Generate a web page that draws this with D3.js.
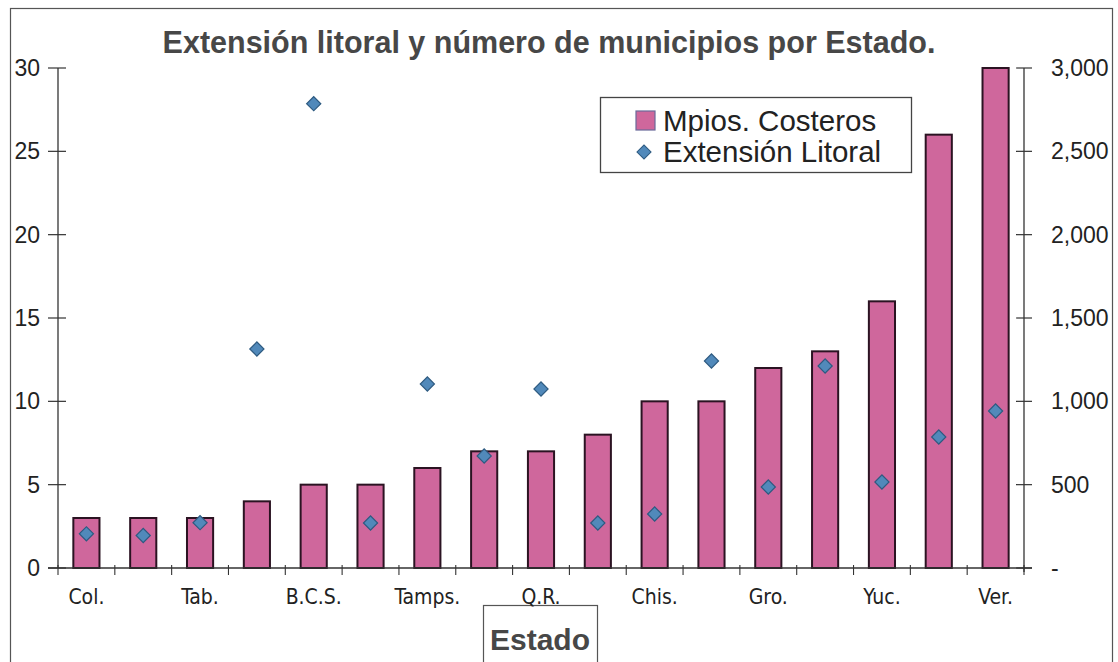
<!DOCTYPE html>
<html><head><meta charset="utf-8">
<script src="https://cdn.jsdelivr.net/npm/d3@7"></script>
<style>
html,body{margin:0;padding:0;background:#fff;}
svg{display:block;}
</style></head>
<body>
<svg id="chart" width="1118" height="662"></svg>
<script>
const estados = ["Col.","Mich.","Tab.","B.C.","B.C.S.","Nay.","Tamps.","Camp.","Q.R.","Jal.","Chis.","Son.","Gro.","Sin.","Yuc.","Oax.","Ver."];
const mpiosCosteros = [3,3,3,4,5,5,6,7,7,8,10,10,12,13,16,26,30];
const extensionLitoral = [205,195,272,1314,2786,270,1104,672,1074,270,324,1242,486,1212,516,786,942];
const leftTicks = [0,5,10,15,20,25,30];
const rightTicks = [0,500,1000,1500,2000,2500,3000];
const shownLabels = ["Col.","Tab.","B.C.S.","Tamps.","Q.R.","Chis.","Gro.","Yuc.","Ver."];

const svg = d3.select("#chart");
const L = 58, R = 1024, T = 68, B = 568;
const font = "'Liberation Sans', Arial, sans-serif";
const catFont = "'DejaVu Sans Condensed','DejaVu Sans', sans-serif";

// outer frame
svg.append("rect").attr("x",10.5).attr("y",8.5).attr("width",1102).attr("height",660)
  .attr("fill","none").attr("stroke","#555").attr("stroke-width",1.2);

const x = d3.scaleBand().domain(estados).range([L,R]).paddingInner(0.54).paddingOuter(0.27);
const yL = d3.scaleLinear().domain([0,30]).range([B,T]);
const yR = d3.scaleLinear().domain([0,3000]).range([B,T]);

// title
svg.append("text").attr("x",549).attr("y",53).attr("text-anchor","middle")
  .attr("font-family",font).attr("font-weight","bold").attr("font-size",30.5)
  .attr("fill","#474747").text("Extensión litoral y número de municipios por Estado.");

// axis title box (drawn before category labels)
svg.append("rect").attr("x",483.5).attr("y",605.5).attr("width",114).attr("height",70)
  .attr("fill","#fff").attr("stroke","#555").attr("stroke-width",1.2);
svg.append("text").attr("x",540).attr("y",650).attr("text-anchor","middle")
  .attr("font-family",font).attr("font-weight","bold").attr("font-size",30).attr("fill","#474747").text("Estado");

// bars
svg.append("g").selectAll("rect").data(estados).join("rect")
  .attr("x",d=>x(d)).attr("width",x.bandwidth())
  .attr("y",(d,i)=>yL(mpiosCosteros[i])).attr("height",(d,i)=>B-yL(mpiosCosteros[i]))
  .attr("fill","#cf679c").attr("stroke","#2b1322").attr("stroke-width",2);

// left axis
const gl = svg.append("g").attr("transform",`translate(${L},0)`);
gl.append("line").attr("y1",T).attr("y2",B).attr("stroke","#333").attr("stroke-width",1.3);
gl.selectAll("line.t").data(leftTicks).join("line").attr("class","t")
  .attr("x1",-10).attr("x2",8).attr("y1",d=>yL(d)).attr("y2",d=>yL(d)).attr("stroke","#333").attr("stroke-width",1.2);
gl.selectAll("text").data(leftTicks).join("text")
  .attr("x",-18).attr("y",d=>yL(d)+8).attr("text-anchor","end")
  .attr("font-family",font).attr("font-size",23).attr("fill","#222").text(d=>d);

// right axis
const gr = svg.append("g").attr("transform",`translate(${R},0)`);
gr.append("line").attr("y1",T).attr("y2",B+4).attr("stroke","#333").attr("stroke-width",1.3);
gr.selectAll("line.t").data(rightTicks).join("line").attr("class","t")
  .attr("x1",-8).attr("x2",8).attr("y1",d=>yR(d)).attr("y2",d=>yR(d)).attr("stroke","#333").attr("stroke-width",1.2);
const fmt = d3.format(",");
gr.selectAll("text").data(rightTicks).join("text")
  .attr("x",27).attr("y",d=>yR(d)+8).attr("text-anchor","start")
  .attr("font-family",font).attr("font-size",23).attr("fill","#222").text(d=>d===0?"-":fmt(d));

// x axis
const gx = svg.append("g");
gx.append("line").attr("x1",L-10).attr("x2",R+8).attr("y1",B).attr("y2",B).attr("stroke","#333").attr("stroke-width",1.3);
const boundaries = d3.range(estados.length+1).map(i=>L + i*(R-L)/estados.length);
gx.selectAll("line.t").data(boundaries).join("line").attr("class","t")
  .attr("x1",d=>d).attr("x2",d=>d).attr("y1",B-3).attr("y2",B+7).attr("stroke","#333").attr("stroke-width",1.1);
gx.selectAll("text").data(shownLabels).join("text")
  .attr("x",d=>x(d)+x.bandwidth()/2).attr("y",B+36).attr("text-anchor","middle")
  .attr("font-family",catFont).attr("font-size",21).attr("fill","#222").text(d=>d);

// diamonds
const dia = d3.symbol().type(d3.symbolSquare).size(100);
svg.append("g").selectAll("path").data(estados).join("path")
  .attr("d",dia)
  .attr("transform",(d,i)=>`translate(${x(d)+x.bandwidth()/2},${yR(extensionLitoral[i])}) rotate(45)`)
  .attr("fill","#5189ba").attr("stroke","#2d5a80").attr("stroke-width",1.2);

// legend
const lg = svg.append("g");
lg.append("rect").attr("x",600.5).attr("y",97.5).attr("width",311).attr("height",75)
  .attr("fill","#fff").attr("stroke","#444").attr("stroke-width",1.3);
lg.append("rect").attr("x",636).attr("y",111).attr("width",19).attr("height",19)
  .attr("fill","#cf679c").attr("stroke","#6a6a9a").attr("stroke-width",1.2);
lg.append("path").attr("d",dia).attr("transform","translate(644,152) rotate(45)")
  .attr("fill","#5189ba").attr("stroke","#2d5a80").attr("stroke-width",1);
lg.append("text").attr("x",663).attr("y",131).attr("font-family",font).attr("font-size",29.5).attr("fill","#222").text("Mpios. Costeros");
lg.append("text").attr("x",663).attr("y",162).attr("font-family",font).attr("font-size",29.5).attr("fill","#222").text("Extensión Litoral");
</script>
</body></html>
